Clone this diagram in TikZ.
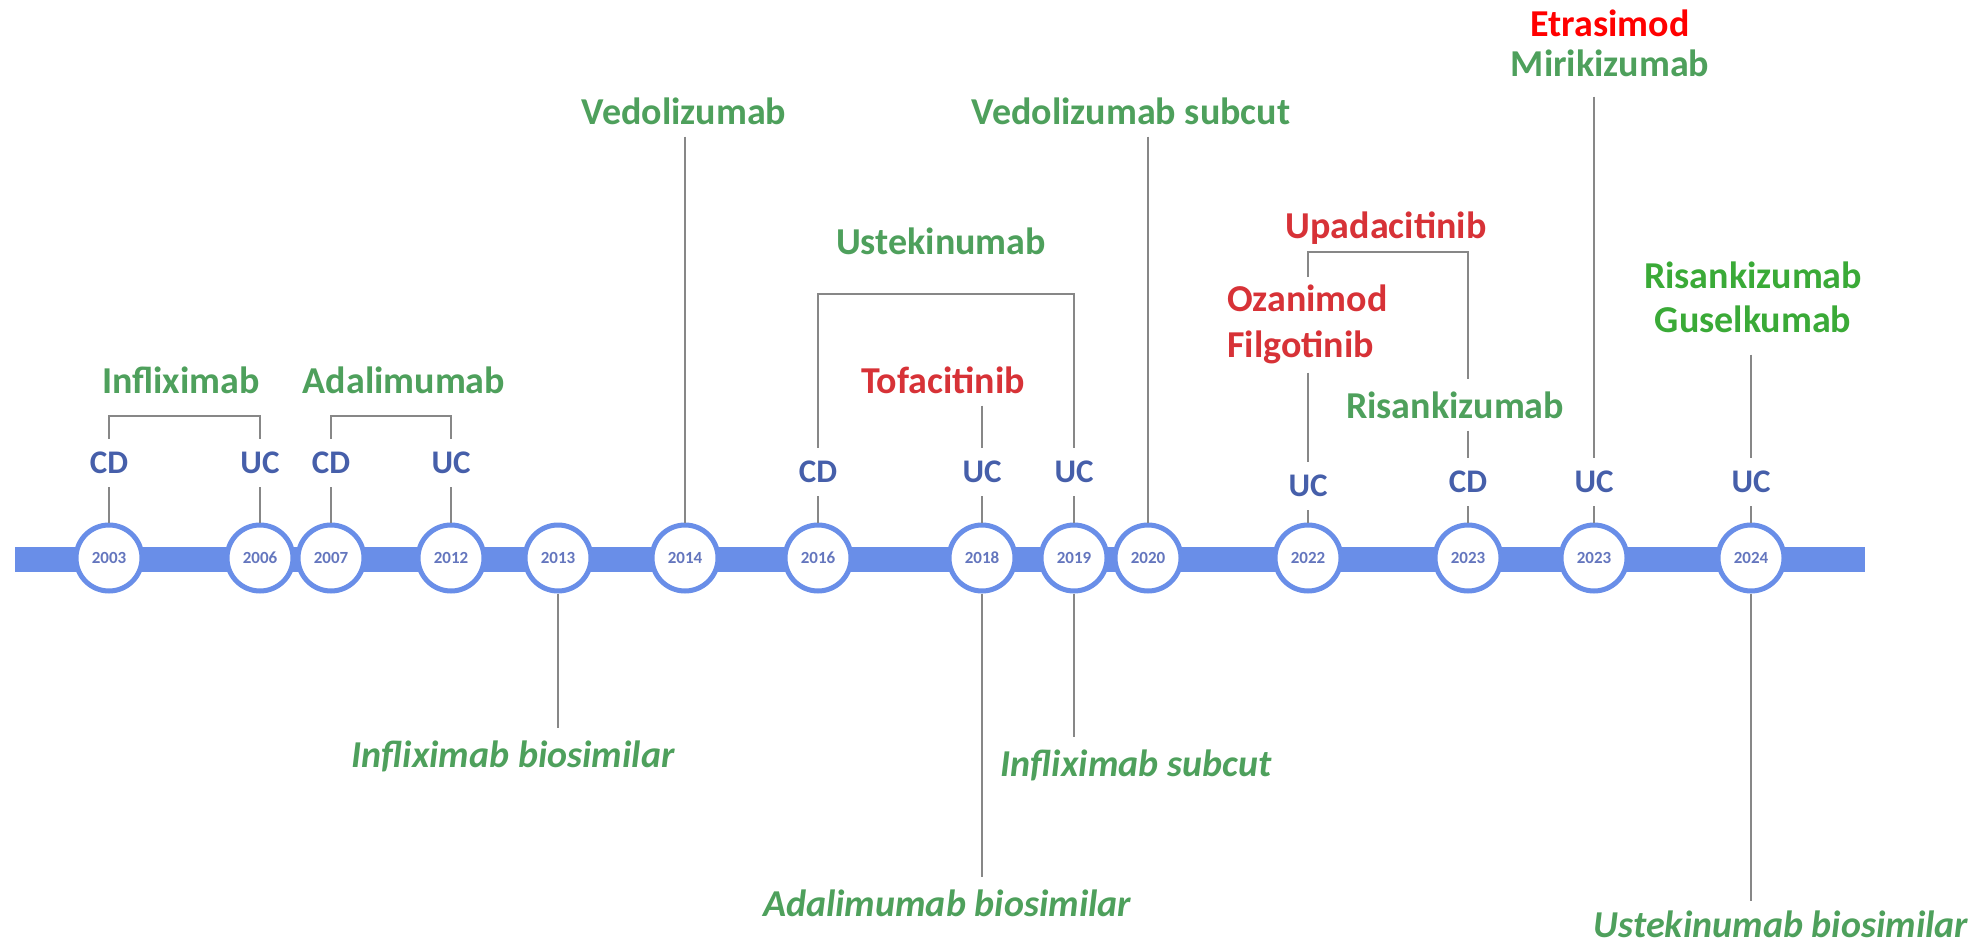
\documentclass[tikz,border=0pt]{standalone}
\usepackage{fontspec}
\setmainfont{Carlito}
\definecolor{drugGreen}{RGB}{78,160,92}
\definecolor{brightGreen}{RGB}{58,170,55}
\definecolor{drugRed}{RGB}{215,50,55}
\definecolor{pureRed}{RGB}{255,0,0}
\definecolor{dxBlue}{RGB}{70,95,170}
\definecolor{barBlue}{RGB}{105,142,232}
\definecolor{yearText}{RGB}{100,118,190}
\definecolor{linkGray}{RGB}{135,135,135}
\begin{document}
\begin{tikzpicture}[x=1pt,y=-1pt,
  yearnode/.style={circle, draw=barBlue, line width=5pt, fill=white,
    minimum size=66pt, inner sep=0pt, text=yearText,
    font=\fontsize{17}{17}\selectfont\bfseries},
  dx/.style={inner xsep=2pt, inner ysep=13pt, text=dxBlue,
    font=\fontsize{33}{33}\selectfont\bfseries},
  drug/.style={inner xsep=2pt, inner ysep=12pt, text=drugGreen,
    font=\fontsize{38}{46}\selectfont\bfseries},
  jak/.style={drug, text=drugRed},
  later/.style={drug, font=\fontsize{38}{46}\selectfont\bfseries\itshape},
  link/.style={draw=linkGray, line width=2pt}]
\useasboundingbox (0,0) rectangle (1985,944);

% timeline bar
\coordinate (barL) at (15,559);
\coordinate (barR) at (1865,559);
\draw[barBlue, line width=25pt] (barL) -- (barR);

% year markers
\node[yearnode] (c03)  at (109,558)  {2003};
\node[yearnode] (c06)  at (260,558)  {2006};
\node[yearnode] (c07)  at (331,558)  {2007};
\node[yearnode] (c12)  at (451,558)  {2012};
\node[yearnode] (c13)  at (558,558)  {2013};
\node[yearnode] (c14)  at (685,558)  {2014};
\node[yearnode] (c16)  at (818,558)  {2016};
\node[yearnode] (c18)  at (982,558)  {2018};
\node[yearnode] (c19)  at (1074,558) {2019};
\node[yearnode] (c20)  at (1148,558) {2020};
\node[yearnode] (c22)  at (1308,558) {2022};
\node[yearnode] (c23a) at (1468,558) {2023};
\node[yearnode] (c23b) at (1594,558) {2023};
\node[yearnode] (c24)  at (1751,558) {2024};

% indication labels
\node[dx] (d03)  at (109,463)  {CD};
\node[dx] (d06)  at (260,463)  {UC};
\node[dx] (d07)  at (331,463)  {CD};
\node[dx] (d12)  at (451,463)  {UC};
\node[dx] (d16)  at (818,472)  {CD};
\node[dx] (d18)  at (982,472)  {UC};
\node[dx] (d19)  at (1074,472) {UC};
\node[dx] (d22)  at (1308,486) {UC};
\node[dx] (d23a) at (1468,482) {CD};
\node[dx] (d23b) at (1594,482) {UC};
\node[dx] (d24)  at (1751,482) {UC};

\foreach \y in {03,06,07,12,16,18,19,22,23a,23b,24}
  \draw[link] (d\y) -- (c\y);

% approvals above the line
\node[drug] (infl) at (181,380) {Infliximab};
\node[drug] (adal) at (404,380) {Adalimumab};
\node[drug] (vedo) at (684,111) {Vedolizumab};
\node[drug] (uste) at (941,241) {Ustekinumab};
\node[jak]  (tofa) at (943,380) {Tofacitinib};
\node[drug] (veds) at (1131,111) {Vedolizumab subcut};
\node[jak]  (upad) at (1386,228) {Upadacitinib};
\node[jak, align=left, anchor=north west, inner ysep=8pt] (ozfi) at (1225,277) {Ozanimod\\Filgotinib};
\node[drug] (risa) at (1455,405) {Risankizumab};
\node[drug, align=center, inner ysep=20pt,
  font=\fontsize{38}{40}\selectfont\bfseries] (miri) at (1610,43)
  {{\color{pureRed}Etrasimod}\\Mirikizumab};
\node[drug, text=brightGreen, align=center, inner ysep=22pt,
  font=\fontsize{38}{44}\selectfont\bfseries] (gusk) at (1753,297)
  {Risankizumab\\Guselkumab};

% brackets joining CD and UC approvals of one drug
\coordinate (bkInfl) at (0,416);
\coordinate (bkAdal) at (0,416);
\coordinate (bkUste) at (0,294);
\coordinate (bkUpad) at (0,252);
\draw[link] (d03.north) -- (d03.north |- bkInfl) -| (d06.north);
\draw[link] (d07.north) -- (d07.north |- bkAdal) -| (d12.north);
\draw[link] (d16.north) -- (d16.north |- bkUste) -| (d19.north);
\draw[link] (ozfi.north -| d22) -- (d22 |- bkUpad) -| (risa.north -| d23a);

% single links from drug to indication
\draw[link] (tofa.south -| d18) -- (d18.north);
\draw[link] (ozfi.south -| d22) -- (d22.north);
\draw[link] (risa.south -| d23a) -- (d23a.north);
\draw[link] (miri.south -| d23b) -- (d23b.north);
\draw[link] (gusk.south -| d24) -- (d24.north);
\draw[link] (vedo.south -| c14) -- (c14.north);
\draw[link] (veds.south -| c20) -- (c20.north);

% approvals below the line
\node[later] (infb) at (513,756)  {Infliximab biosimilar};
\node[later] (adab) at (947,903)  {Adalimumab biosimilar};
\node[later] (infs) at (1136,765) {Infliximab subcut};
\node[later, inner ysep=9pt] (usbs) at (1781,924) {Ustekinumab biosimilar};

\draw[link] (c13.south) -- (c13.south |- infb.north);
\draw[link] (c18.south) -- (c18.south |- adab.north);
\draw[link] (c19.south) -- (c19.south |- infs.north);
\draw[link] (c24.south) -- (c24.south |- usbs.north);
\end{tikzpicture}
\end{document}
